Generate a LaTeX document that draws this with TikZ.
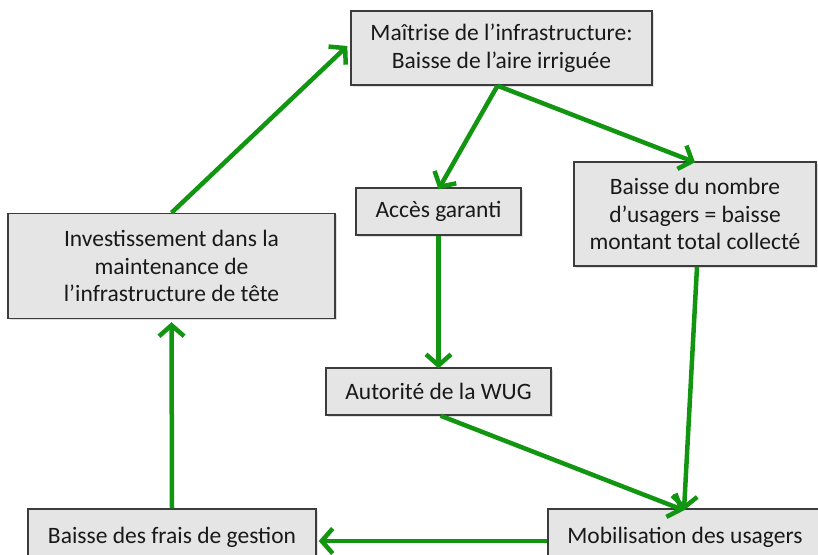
\documentclass[tikz,border=0pt]{standalone}
\usepackage{fontspec}
\setmainfont{Carlito}
\usetikzlibrary{arrows.meta,shadows}
\definecolor{flowgreen}{RGB}{18,150,18}
\definecolor{boxfill}{RGB}{229,229,229}
\definecolor{boxline}{RGB}{60,60,60}
\definecolor{boxtext}{RGB}{25,25,25}
\tikzset{
  stage/.style={draw=boxline, line width=1.4pt, fill=boxfill, text=boxtext,
    align=center, inner sep=0pt, font=\fontsize{23.5}{27.5}\selectfont,
    drop shadow={opacity=0.25, shadow xshift=1.5pt, shadow yshift=-1.5pt}},
  flow/.style={draw=flowgreen, line width=4.5pt,
    -{Straight Barb[length=11pt,width=25pt]}}
}
\begin{document}
\begin{tikzpicture}[x=1pt,y=-1pt]
\useasboundingbox (0,0) rectangle (818,554);
\clip (0,0) rectangle (818,554);

% stages of the cycle
\node[stage, minimum width=301pt, minimum height=74pt] (top) at (501.5,48)
  {Maîtrise de l’infrastructure:\\Baisse de l’aire irriguée};
\node[stage, minimum width=242pt, minimum height=104pt] (nombre) at (695,214)
  {Baisse du nombre\\d’usagers = baisse\\montant total collecté};
\node[stage, minimum width=327pt, minimum height=105pt] (invest) at (171.5,266)
  {Investissement dans la\\maintenance de\\l’infrastructure de tête};
\node[stage, minimum width=165pt, minimum height=47pt] (acces) at (438.5,211.5)
  {Accès garanti};
\node[stage, minimum width=225pt, minimum height=47pt] (autorite) at (438.5,391.5)
  {Autorité de la WUG};
\node[stage, minimum width=288pt, minimum height=56pt] (frais) at (172,537)
  {Baisse des frais de gestion};
\node[stage, minimum width=274pt, minimum height=56pt] (mobil) at (685,537)
  {Mobilisation des usagers};

% junction points on the box edges
\coordinate (topout) at ([xshift=-4pt]top.south);
\coordinate (mobin) at ([xshift=-1pt]mobil.north);

% connectors
\draw[flow] (topout) -- ([yshift=-2pt]acces.north);
\draw[flow] (topout) -- ([yshift=-1pt]nombre.north);
\draw[flow] (acces.south) -- ([yshift=-1pt]autorite.north);
\draw[flow] ([xshift=2pt]autorite.south) -- ([yshift=-2pt]mobin);
\draw[flow] ([xshift=2pt]nombre.south) -- ([yshift=-2pt]mobin);
\draw[flow] ([yshift=-4pt]mobil.west) -- ([xshift=2pt,yshift=-4pt]frais.east);
\draw[flow] (frais.north) -- ([yshift=-3pt]invest.south);
\draw[flow] (invest.north) -- ([xshift=-3pt,yshift=2pt]top.west);
\end{tikzpicture}
\end{document}
